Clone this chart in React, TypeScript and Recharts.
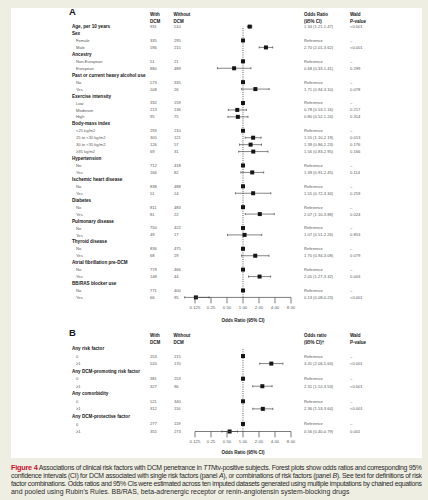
import React from 'react';
import { ComposedChart, Scatter, XAxis, YAxis, ErrorBar, ReferenceLine } from 'recharts';

const FONT = '"Liberation Sans", Arial, sans-serif';

// ---------- Panel A data ----------
const labelsA = [
  'Age, per 10 years', 'Sex', 'Female', 'Male', 'Ancestry', 'Non-European', 'European',
  'Past or current heavy alcohol use', 'No', 'Yes', 'Exercise intensity', 'Low', 'Moderate', 'High',
  'Body-mass index', '<25 kg/m2', '25 to <30 kg/m2', '30 to <35 kg/m2', '\u226535 kg/m2',
  'Hypertension', 'No', 'Yes', 'Ischemic heart disease', 'No', 'Yes', 'Diabetes', 'No', 'Yes',
  'Pulmonary disease', 'No', 'Yes', 'Thyroid disease', 'No', 'Yes',
  'Atrial fibrillation pre-DCM', 'No', 'Yes', 'BB/RAS blocker use', 'No', 'Yes',
];
const boldA = [
  true, true, false, false, true, false, false, true, false, false, true, false, false, false,
  true, false, false, false, false, true, false, false, true, false, false, true, false, false,
  true, false, false, true, false, false, true, false, false, true, false, false,
];
const withA = [931, null, 335, 596, null, 51, 880, null, 573, 108, null, 332, 213, 95, null, 293, 305, 126, 69,
  null, 712, 166, null, 838, 51, null, 811, 81, null, 750, 49, null, 836, 68, null, 779, 148, null, 771, 66];
const withoutA = [510, null, 295, 215, null, 21, 489, null, 335, 26, null, 159, 136, 75, null, 210, 121, 57, 31,
  null, 418, 82, null, 488, 14, null, 483, 22, null, 422, 17, null, 475, 29, null, 466, 44, null, 400, 95];
const orA = [1.34, null, 1, 2.70, null, 1, 0.68, null, 1, 1.71, null, 1, 0.78, 0.80, null, 1, 1.55, 1.39, 1.56,
  null, 1, 1.49, null, 1, 1.55, null, 1, 2.07, null, 1, 1.07, null, 1, 1.70, null, 1, 2.05, null, 1, 0.13];
const loA = [1.21, null, null, 2.01, null, null, 0.33, null, null, 0.94, null, null, 0.53, 0.52, null, null, 1.10, 0.86, 0.83,
  null, null, 0.91, null, null, 0.72, null, null, 1.10, null, null, 0.51, null, null, 0.94, null, null, 1.27, null, null, 0.08];
const hiA = [1.47, null, null, 3.62, null, null, 1.41, null, null, 3.10, null, null, 1.16, 1.24, null, null, 2.19, 2.23, 2.95,
  null, null, 2.45, null, null, 3.34, null, null, 3.88, null, null, 2.26, null, null, 3.08, null, null, 3.32, null, null, 0.23];
const pA = ['<0.001', null, '\u2013', '<0.001', null, '\u2013', '0.299', null, '\u2013', '0.078', null, '\u2013', '0.217', '0.314',
  null, '\u2013', '0.013', '0.176', '0.166', null, '\u2013', '0.114', null, '\u2013', '0.259', null, '\u2013', '0.024',
  null, '\u2013', '0.853', null, '\u2013', '0.079', null, '\u2013', '0.003', null, '\u2013', '<0.001'];

// ---------- Panel B data ----------
const labelsB = ['Any risk factor', '0', '\u22651', 'Any DCM-promoting risk factor', '0', '\u22651',
  'Any comorbidity', '0', '\u22651', 'Any DCM-protective factor', '0', '\u22651'];
const boldB = [true, false, false, true, false, false, true, false, false, true, false, false];
const withB = [null, 253, 520, null, 381, 327, null, 521, 312, null, 277, 355];
const withoutB = [null, 215, 170, null, 253, 96, null, 340, 116, null, 119, 273];
const orB = [null, 1, 3.41, null, 1, 2.31, null, 1, 2.36, null, 1, 0.56];
const loB = [null, null, 2.06, null, null, 1.52, null, null, 1.53, null, null, 0.40];
const hiB = [null, null, 5.64, null, null, 3.53, null, null, 3.64, null, null, 0.79];
const pB = [null, '\u2013', '<0.001', null, '\u2013', '<0.001', null, '\u2013', '<0.001', null, '\u2013', '0.001'];

// ---------- Axis ----------
const tickValues = [0.125, 0.25, 0.5, 1, 2, 4, 8];
const tickLabels = ['0.125', '0.25', '0.50', '1.00', '2.00', '4.00', '8.00'];
const X_MIN = 0.07;
const X_MAX = 8;

// ---------- Layout ----------
const W = 428;
const PLOT_RIGHT = 291;
const PX_PER_DOUBLING = 16;
const PLOT_LEFT = PLOT_RIGHT - PX_PER_DOUBLING * Math.log2(X_MAX / X_MIN);
const X_AXIS_H = 25;
const TICK_SIZE = 6;
const TICK_MARGIN = 2.5;

const fmt = (v: number) => v.toFixed(2);

function buildRows(labels: string[], bold: boolean[], w: any[], wo: any[], or: any[], lo: any[], hi: any[], p: any[]) {
  return labels.map((label, i) => {
    const hasCi = lo[i] != null && hi[i] != null;
    return {
      id: String(i),
      label,
      bold: bold[i],
      withN: w[i],
      withoutN: wo[i],
      or: or[i] == null ? undefined : or[i],
      err: hasCi ? [or[i] - lo[i], hi[i] - or[i]] : undefined,
      orText: or[i] == null ? null : hasCi ? `${fmt(or[i])} (${fmt(lo[i])}-${fmt(hi[i])})` : 'Reference',
      p: p[i],
    };
  });
}

const rowsA = buildRows(labelsA, boldA, withA, withoutA, orA, loA, hiA, pA);
const rowsB = buildRows(labelsB, boldB, withB, withoutB, orB, loB, hiB, pB);

const TXT = '#585858';
const DARK = '#151515';

function RowTick(props: any) {
  const { y, payload, rows } = props;
  const r = rows[Number(payload.value)];
  if (!r) return null;
  const common = { fontFamily: FONT, fontSize: 4.1, fill: TXT };
  return (
    <g>
      <text x={r.bold ? 72 : 76} y={y} dy={1.6} fontFamily={FONT}
        fontSize={r.bold ? 4.6 : 4.1} fontWeight={r.bold ? 700 : 400} fill={r.bold ? DARK : TXT}>
        {r.label}
      </text>
      {r.withN != null && <text x={150} y={y} dy={1.5} {...common}>{r.withN}</text>}
      {r.withoutN != null && <text x={174} y={y} dy={1.5} {...common}>{r.withoutN}</text>}
      {r.orText != null && <text x={304} y={y} dy={1.5} {...common}>{r.orText}</text>}
      {r.p != null && <text x={350} y={y} dy={1.5} {...common}>{r.p}</text>}
    </g>
  );
}

// X tick: label, plus (on the first tick) the axis baseline spanning the labelled range 0.125 .. 8
function XTick(props: any) {
  const { x, y, payload, index } = props;
  const i = tickValues.indexOf(payload.value);
  const axisY = y - TICK_SIZE - TICK_MARGIN;
  const span = PX_PER_DOUBLING * Math.log2(tickValues[tickValues.length - 1] / tickValues[0]);
  return (
    <g>
      {index === 0 && <line x1={x} x2={x + span} y1={axisY} y2={axisY} stroke="#444" strokeWidth={0.7} />}
      <text x={x} y={y} dy={3.2} textAnchor="middle" fontFamily={FONT} fontSize={4.3} fill={TXT}>
        {i >= 0 ? tickLabels[i] : String(payload.value)}
      </text>
    </g>
  );
}

function Square(props: any) {
  const { cx, cy } = props;
  if (cx == null || cy == null || Number.isNaN(cx) || Number.isNaN(cy)) return null;
  return <rect x={cx - 2} y={cy - 2} width={4} height={4} fill={DARK} />;
}

function Forest({ rows, top, height, plotTop, plotBottom }: any) {
  const margin = {
    top: plotTop - top,
    bottom: top + height - plotBottom - X_AXIS_H,
    left: 0,
    right: W - PLOT_RIGHT,
  };
  return (
    <div style={{ position: 'absolute', left: 0, top, width: W, height }}>
      <ComposedChart width={W} height={height} layout="vertical" data={rows} margin={margin}>
        <XAxis
          type="number"
          dataKey="or"
          scale="log"
          domain={[X_MIN, X_MAX]}
          allowDataOverflow
          ticks={tickValues}
          interval={0}
          axisLine={false}
          tickLine={{ stroke: '#444', strokeWidth: 0.7 }}
          tickSize={TICK_SIZE}
          tickMargin={TICK_MARGIN}
          height={X_AXIS_H}
          tick={(p: any) => <XTick {...p} />}
        />
        <YAxis
          type="category"
          dataKey="id"
          width={PLOT_LEFT}
          axisLine={false}
          tickLine={false}
          interval={0}
          tick={(p: any) => <RowTick {...p} rows={rows} />}
        />
        <ReferenceLine x={1} stroke="#222" strokeWidth={0.8} strokeDasharray="0.9 1.3" />
        <Scatter dataKey="or" shape={Square} isAnimationActive={false}>
          <ErrorBar dataKey="err" direction="x" width={1.1} stroke="#333" strokeWidth={0.6} isAnimationActive={false} />
        </Scatter>
      </ComposedChart>
    </div>
  );
}

function Headers({ letter, y, orHead2, orHead1 }: any) {
  const hb = { fontFamily: FONT, fontSize: 4.5, fontWeight: 700, fill: DARK };
  return (
    <g>
      <text x={69} y={y + 3} fontFamily={FONT} fontSize={9.5} fontWeight={700} fill={DARK}>{letter}</text>
      <text x={150} y={y + 3.6} {...hb}>With</text>
      <text x={150} y={y + 10.6} {...hb}>DCM</text>
      <text x={173.5} y={y + 3.6} {...hb}>Without</text>
      <text x={173.5} y={y + 10.6} {...hb}>DCM</text>
      <text x={304} y={y + 3.6} {...hb}>{orHead1}</text>
      <text x={304} y={y + 10.6} {...hb}>{orHead2}</text>
      <text x={350} y={y + 3.6} {...hb}>Wald</text>
      <text x={350} y={y + 10.6} {...hb}>P-value</text>
    </g>
  );
}

export default function App() {
  const cap = { fontFamily: FONT, fontSize: 6.9, fill: '#2a2a2a' };
  return (
    <div style={{ position: 'absolute', left: 0, top: 0, width: W, height: 500, background: '#efeee3', overflow: 'hidden' }}>
      <div style={{ position: 'absolute', left: 11, top: 8, width: 411, height: 450, background: '#ffffff' }} />
      <Forest rows={rowsA} top={0} height={330} plotTop={26.6} plotBottom={297.4} />
      <Forest rows={rowsB} top={330} height={130} plotTop={348.5} plotBottom={431.5} />
      <svg width={W} height={500} style={{ position: 'absolute', left: 0, top: 0, pointerEvents: 'none' }}>
        <Headers letter="A" y={12} orHead1="Odds Ratio" orHead2="(95% CI)" />
        <Headers letter="B" y={333} orHead1="Odds ratio" orHead2={'(95% CI)\u2020'} />
        <text x={243} y={321.6} textAnchor="middle" fontFamily={FONT} fontSize={4.5} fontWeight={700} fill={DARK}>Odds Ratio (95% CI)</text>
        <text x={243} y={453.5} textAnchor="middle" fontFamily={FONT} fontSize={4.5} fontWeight={700} fill={DARK}>Odds Ratio (95% CI)</text>
        <text x={11} y={469.5} textLength={411} lengthAdjust="spacing" {...cap}>
          <tspan fontWeight={700} fill="#c8102e" fontSize={7.4}>Figure 4</tspan>
          <tspan> Associations of clinical risk factors with DCM penetrance in </tspan>
          <tspan fontStyle="italic">TTN</tspan>
          <tspan>tv-positive subjects. Forest plots show odds ratios and corresponding 95%</tspan>
        </text>
        <text x={11} y={477.5} textLength={411} lengthAdjust="spacing" {...cap}>
          <tspan>confidence intervals (CI) for DCM associated with single risk factors (panel </tspan>
          <tspan fontStyle="italic">A</tspan>
          <tspan>), or combinations of risk factors (panel </tspan>
          <tspan fontStyle="italic">B</tspan>
          <tspan>). See text for definitions of risk</tspan>
        </text>
        <text x={11} y={485.5} textLength={411} lengthAdjust="spacing" {...cap}>
          factor combinations. Odds ratios and 95% CIs were estimated across ten imputed datasets generated using multiple imputations by chained equations
        </text>
        <text x={11} y={493.5} {...cap}>
          and pooled using Rubin's Rules. BB/RAS, beta-adrenergic receptor or renin-angiotensin system-blocking drugs
        </text>
      </svg>
    </div>
  );
}
